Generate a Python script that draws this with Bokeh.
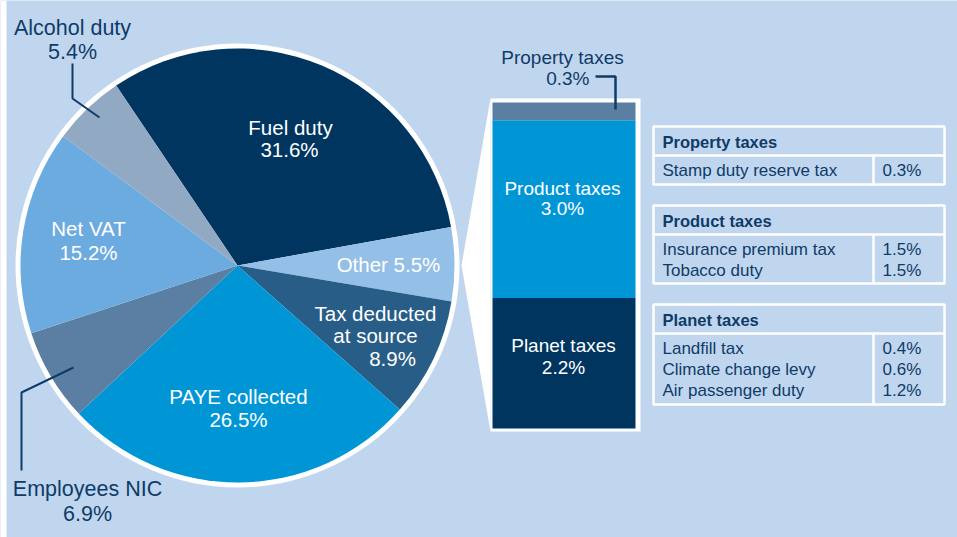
import numpy as np
from bokeh.plotting import figure
from bokeh.models import Range1d
from bokeh.core.properties import value
from bokeh.embed import file_html
from bokeh.resources import INLINE

# ---------------- data ----------------
pie_labels = ["Fuel duty", "Other", "Tax deducted at source", "PAYE collected",
              "Employees NIC", "Net VAT", "Alcohol duty"]
pie_values = [31.6, 5.5, 8.9, 26.5, 6.9, 15.2, 5.4]
pie_colors = ["#003560", "#94bfe6", "#275d87", "#0096d6", "#5b7fa2", "#6cabdf", "#91a9c3"]

bar_labels = ["Planet taxes", "Product taxes", "Property taxes"]
bar_values = [2.2, 3.0, 0.3]
bar_colors = ["#003560", "#0096d6", "#5b7fa2"]

table_groups = ["Property taxes", "Product taxes", "Planet taxes"]
property_items = ["Stamp duty reserve tax"]
property_values = ["0.3%"]
product_items = ["Insurance premium tax", "Tobacco duty"]
product_values = ["1.5%", "1.5%"]
planet_items = ["Landfill tax", "Climate change levy", "Air passenger duty"]
planet_values = ["0.4%", "0.6%", "1.2%"]

# ---------------- styles ----------------
BG = "#c0d6ef"
DARK = "#0f3b68"
FONT = value("Liberation Sans")
W, H = 957, 537
LEFT = 6

p = figure(width=W, height=H, output_backend="svg", toolbar_location=None,
           x_range=Range1d(0, W), y_range=Range1d(-H, 0),
           min_border=0, background_fill_color=BG, border_fill_color=BG,
           outline_line_color=None)
p.axis.visible = False
p.grid.visible = False


def Y(v):
    if isinstance(v, (list, tuple)):
        return [-a for a in v]
    return -v


def txt(x, y, s, color, size, align="center", style="normal"):
    p.text(x=[x], y=[Y(y)], text=[s], text_color=color, text_font=FONT,
           text_font_size=f"{size}px", text_align=align, text_baseline="middle",
           text_font_style=style)


# white strip at the left edge
p.quad(left=[0], right=[LEFT], top=[0], bottom=[-H], fill_color="white", line_color=None)

# ---------------- pie ----------------
cx, cy, r = 237, 265, 217
p.circle(x=[cx], y=[Y(cy)], radius=r + 5, fill_color="white", line_color=None)

start_deg = 124.0
cum = np.concatenate([[0], np.cumsum(pie_values)[:-1]])
ends = np.radians(start_deg - cum * 3.6)
starts = ends - np.radians(np.array(pie_values) * 3.6)
p.wedge(x=cx, y=Y(cy), radius=r, start_angle=starts, end_angle=ends,
        direction="anticlock", fill_color=pie_colors, line_color=None)

# connector triangle to the bar
p.patch(x=[461, 490, 490], y=Y([265, 98, 431]), fill_color="white", line_color=None)

# ---------------- bar ----------------
p.quad(left=[490], right=[640], top=[Y(98)], bottom=[Y(431)], fill_color="white", line_color=None)
# bar scale: value 0 at pixel 428, value 5.5 at pixel 102
px0, px1 = 428, 102
per = (px0 - px1) / sum(bar_values)
lo = (px0 - H) / per
hi = (px0 - 0) / per
p.extra_y_ranges = {"bar": Range1d(lo, hi)}
bcum = np.concatenate([[0], np.cumsum(bar_values)])
p.vbar(x=563.5, width=143, bottom=bcum[:-1], top=bcum[1:], fill_color=bar_colors,
       line_color=None, y_range_name="bar")

# ---------------- pie labels ----------------
txt(290, 127, "Fuel duty", "white", 20.5)
txt(289, 149, "31.6%", "white", 20.5)
txt(388, 264, "Other 5.5%", "white", 20.5)
txt(375, 313, "Tax deducted", "white", 20.5)
txt(375, 335, "at source", "white", 20.5)
txt(392, 358, "8.9%", "white", 20.5)
txt(238, 396, "PAYE collected", "white", 20.5)
txt(238, 419, "26.5%", "white", 20.5)
txt(88, 228, "Net VAT", "white", 20.5)
txt(88, 252, "15.2%", "white", 20.5)
txt(72, 27, "Alcohol duty", DARK, 21.5)
txt(72, 51, "5.4%", DARK, 21.5)
txt(87, 488, "Employees NIC", DARK, 21.5)
txt(87, 513, "6.9%", DARK, 21.5)

# leader lines
p.line(x=[72, 72, 99], y=Y([63, 98, 117]), line_color=DARK, line_width=2)
p.line(x=[73, 21, 21], y=Y([367, 392, 470]), line_color=DARK, line_width=2)
p.line(x=[595, 615, 615], y=Y([76, 76, 109]), line_color=DARK, line_width=2.5)

# ---------------- bar labels ----------------
txt(562, 57, "Property taxes", DARK, 19)
txt(589, 78, "0.3%", DARK, 19, align="right")
txt(562, 188, "Product taxes", "white", 19)
txt(562, 208, "3.0%", "white", 19)
txt(563, 345, "Planet taxes", "white", 19)
txt(563, 367, "2.2%", "white", 19)

# ---------------- tables ----------------
tables = [
    (table_groups[0], property_items, property_values, 126, 155, 184),
    (table_groups[1], product_items, product_values, 205, 234, 283),
    (table_groups[2], planet_items, planet_values, 304, 333, 404),
]
tl, tr, tc = 653, 944, 873
for name, items, vals, top, mid, bot in tables:
    p.quad(left=[tl], right=[tr], top=[Y(top)], bottom=[Y(bot)], fill_color=None,
           line_color="white", line_width=2.5)
    p.line(x=[tl, tr], y=[Y(mid), Y(mid)], line_color="white", line_width=2.5)
    p.line(x=[tc, tc], y=[Y(mid), Y(bot)], line_color="white", line_width=2.5)
    txt(662, (top + mid) / 2 + 1, name, DARK, 16.5, align="left", style="bold")
    for i, (it, v) in enumerate(zip(items, vals)):
        yy = mid + 15 + 21 * i
        txt(662, yy, it, DARK, 17, align="left")
        txt(882, yy, v, DARK, 17, align="left")

open("out.html", "w").write(file_html(p, INLINE))
